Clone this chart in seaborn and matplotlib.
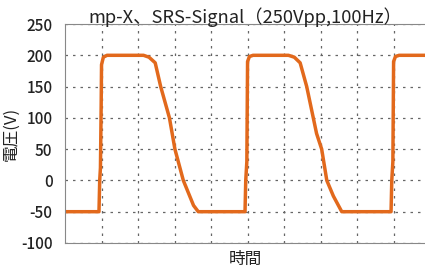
import matplotlib
matplotlib.use("Agg")
import matplotlib.pyplot as plt
import seaborn as sns
import pandas as pd

title = "mp-X、SRS-Signal（250Vpp,100Hz）"
xlabel = "時間"
ylabel = "電圧(V)"
yticks = [-100, -50, 0, 50, 100, 150, 200, 250]

time = [0, 0.93, 0.95, 0.97, 0.99, 1.0, 1.05, 1.15, 2.15, 2.3, 2.47, 2.62, 2.86, 3.01, 3.24, 3.52, 3.65,
        4.93, 4.95, 4.98, 5.0, 5.05, 5.15, 6.12, 6.28, 6.44, 6.62, 6.80, 6.89, 7.03, 7.17, 7.35, 7.58,
        8.93, 8.95, 8.98, 9.0, 9.05, 9.15, 9.9]
voltage = [-50, -50, 0, 20, 120, 185, 197, 200, 200, 197, 188, 150, 100, 50, 0, -40, -50,
           -50, 0, 30, 190, 198, 200, 200, 197, 188, 150, 100, 75, 50, 0, -25, -50,
           -50, 0, 30, 190, 198, 200, 200]

sns.set_style("white")
plt.rcParams['font.family'] = ['Noto Sans CJK JP', 'DejaVu Sans']
plt.rcParams['axes.unicode_minus'] = False

df = pd.DataFrame({"t": time, "v": voltage})
fig = plt.figure(figsize=(4.25, 2.67), dpi=100)
ax = fig.add_axes([0.153, 0.09, 0.847, 0.82])
sns.lineplot(data=df, x="t", y="v", sort=False, color="#E2691C", linewidth=2.5, ax=ax)

ax.set_xlim(0, 9.86)
ax.set_ylim(-100, 250)
ax.set_xticks(range(1, 10))
ax.set_yticks(yticks)
ax.set_xticklabels([])
ax.set_yticklabels([str(v) for v in yticks], fontsize=11, fontweight="medium", color="#222222")
ax.tick_params(axis="both", length=0, pad=9)
ax.grid(True, color="#666666", linestyle=(0, (2, 4)), linewidth=0.9)
for s in ["left", "bottom", "top"]:
    ax.spines[s].set_color("#888888")
    ax.spines[s].set_linewidth(0.8)
ax.spines["right"].set_visible(False)
ax.set_title(title, fontsize=13.2, pad=1, color="#222222")
ax.set_xlabel(xlabel, fontsize=12, color="#222222")
ax.xaxis.set_label_coords(0.5, -0.035)
ax.set_ylabel(ylabel, fontsize=12, color="#222222")
ax.yaxis.set_label_coords(-0.125, 0.5)

fig.savefig("out.png", dpi=100)
